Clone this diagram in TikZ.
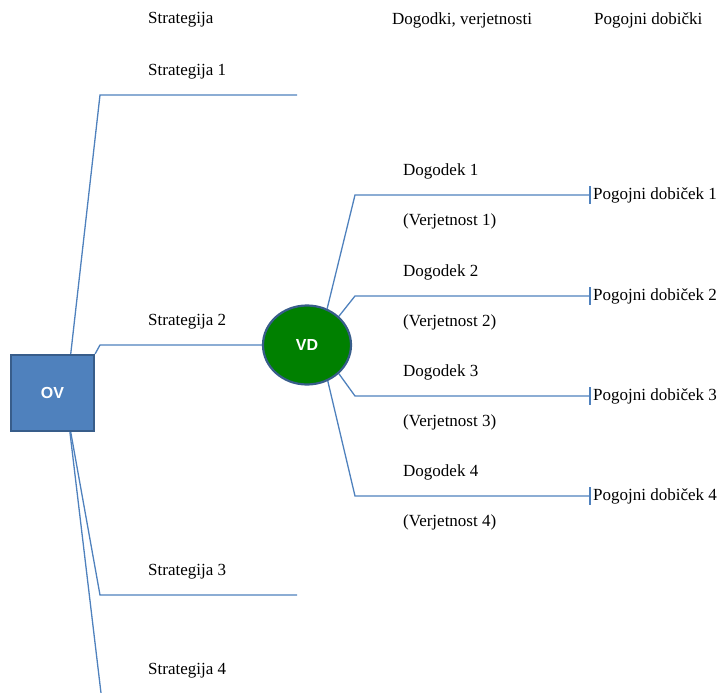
\documentclass[tikz,border=0pt]{standalone}
\usepackage{fontspec}
\setmainfont{Liberation Serif}
\setsansfont{Liberation Sans}
\usetikzlibrary{shapes.geometric}
\definecolor{lineblue}{HTML}{4F81BD}
\definecolor{boxblue}{HTML}{4F81BD}
\definecolor{boxedge}{HTML}{385D8A}
\definecolor{vdgreen}{HTML}{008000}

\begin{document}
\begin{tikzpicture}[x=1pt, y=-1pt,
    branch/.style={draw=lineblue, line width=1.3pt},
    lbl/.style={anchor=west, inner sep=0pt, font=\fontsize{17}{19}\selectfont},
    ovbox/.style={draw=boxedge, line width=2.2pt, fill=boxblue, minimum width=83pt,
      minimum height=76pt, text=white, font=\sffamily\bfseries\fontsize{16}{18}\selectfont},
    vdnode/.style={ellipse, draw=boxedge, line width=2.2pt, fill=vdgreen, minimum width=88pt,
      minimum height=79pt, text=white, font=\sffamily\bfseries\fontsize{16}{18}\selectfont}]
  \useasboundingbox (0,0) rectangle (721,693);

  \node[lbl] (hs) at (148,20) {Strategija};
  \node[lbl] (hd) at (392,20) {Dogodki, verjetnosti};
  \node[lbl] (hp) at (594,20) {Pogojni dobički};

  \node[ovbox] (ov) at (52.5,393) {OV};
  \node[vdnode] (vd) at (307,345) {VD};

  \coordinate (c1) at (100,95);
  \coordinate (s1) at (297,95);
  \coordinate (c2) at (100,345);
  \coordinate (c3) at (100,595);
  \coordinate (s3) at (297,595);
  \coordinate (c4) at (101,693);

  \draw[branch] (ov.65) -- (c1) -- (s1);
  \draw[branch] (ov.north east) -- (c2) -- (vd.west);
  \draw[branch] (ov.-65) -- (c3) -- (s3);
  \draw[branch] (ov.-66) -- (c4);

  \node[lbl] (st1) at (148,72) {Strategija 1};
  \node[lbl] (st2) at (148,322) {Strategija 2};
  \node[lbl] (st3) at (148,572) {Strategija 3};
  \node[lbl] (st4) at (148,671) {Strategija 4};

  \foreach \i/\y/\a in {1/195/61, 2/296/42, 3/396/-42, 4/496/-60} {
    \coordinate (e\i) at (355,\y);
    \coordinate (t\i) at (590,\y);
    \draw[branch] (vd.\a) -- (e\i) -- (t\i);
    \draw[branch] ([yshift=9pt]t\i) -- ([yshift=-9pt]t\i);
    \node[lbl] (d\i) at (403,\y-24) {Dogodek \i};
    \node[lbl] (v\i) at (403,\y+26) {(Verjetnost \i)};
    \node[lbl] (p\i) at (593,\y) {Pogojni dobiček \i};
  }
\end{tikzpicture}
\end{document}
